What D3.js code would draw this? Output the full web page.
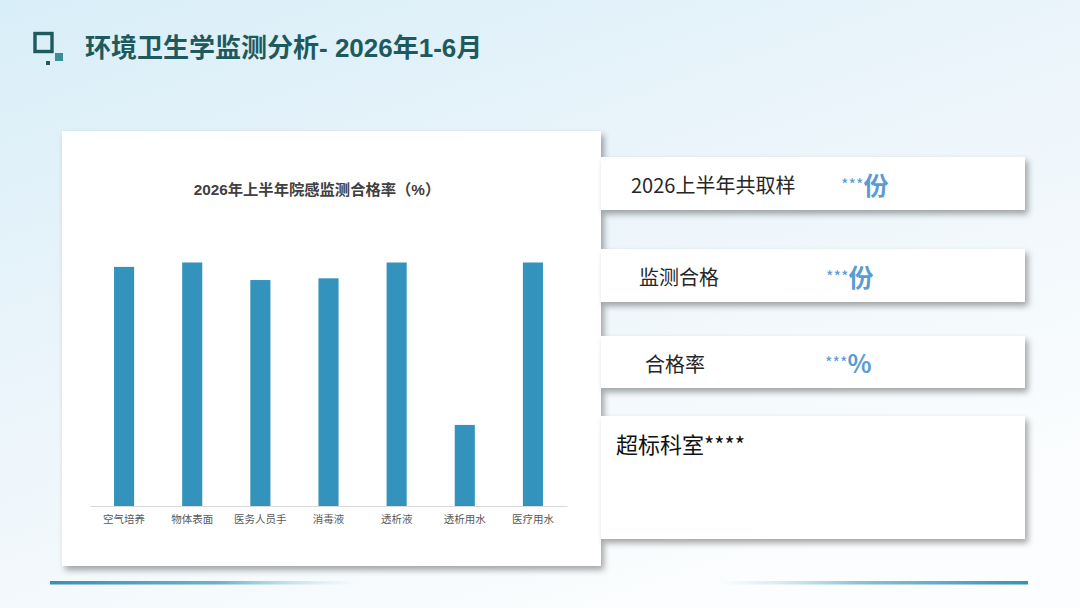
<!DOCTYPE html>
<html>
<head>
<meta charset="utf-8">
<script src="https://cdn.jsdelivr.net/npm/d3@7/dist/d3.min.js"></script>
<style>
  html, body { margin: 0; padding: 0; background: #fff; }
  svg { display: block; }
</style>
</head>
<body>
<div id="chart"></div>
<script>
// Chart data
const categories = ['空气培养', '物体表面', '医务人员手', '消毒液', '透析液', '透析用水', '医疗用水'];
const passRates = [98.2, 100, 92.8, 93.5, 100, 33.3, 100];

// Summary panels
const statLabels = ['2026上半年共取样', '监测合格', '合格率'];
const statValues = ['***', '***', '***'];
const statUnits = ['份', '份', '%'];
const exceedText = '超标科室****';

const pageTitle = '环境卫生学监测分析- 2026年1-6月';
const chartTitle = '2026年上半年院感监测合格率（%）';

const W = 1080, H = 608;
const cjk = '"Noto Sans CJK SC", "Noto Sans", sans-serif';
const latin = '"Liberation Sans", Arial, "Noto Sans CJK SC", sans-serif';

const svg = d3.select('#chart').append('svg')
  .attr('width', W)
  .attr('height', H)
  .attr('viewBox', `0 0 ${W} ${H}`);

const defs = svg.append('defs');

// Background gradient (light blue top-left fading to white)
const bg = defs.append('linearGradient').attr('id', 'bg')
  .attr('x1', 0).attr('y1', 0).attr('x2', 0.6).attr('y2', 1);
bg.append('stop').attr('offset', '0%').attr('stop-color', '#d8eef8');
bg.append('stop').attr('offset', '45%').attr('stop-color', '#eaf4fa');
bg.append('stop').attr('offset', '100%').attr('stop-color', '#fbfdfe');

const shadow = defs.append('filter').attr('id', 'shadow')
  .attr('x', '-5%').attr('y', '-10%').attr('width', '115%').attr('height', '130%');
shadow.append('feDropShadow')
  .attr('dx', 3).attr('dy', 4).attr('stdDeviation', 3)
  .attr('flood-color', '#000').attr('flood-opacity', 0.35);

// Decorative lines at the bottom
const lineL = defs.append('linearGradient').attr('id', 'lineL');
lineL.append('stop').attr('offset', '0%').attr('stop-color', '#3a8fb7');
lineL.append('stop').attr('offset', '55%').attr('stop-color', '#6fb1cc');
lineL.append('stop').attr('offset', '100%').attr('stop-color', '#bfe0ec').attr('stop-opacity', 0);
const lineR = defs.append('linearGradient').attr('id', 'lineR');
lineR.append('stop').attr('offset', '0%').attr('stop-color', '#bfe0ec').attr('stop-opacity', 0);
lineR.append('stop').attr('offset', '45%').attr('stop-color', '#8cc3d8');
lineR.append('stop').attr('offset', '100%').attr('stop-color', '#3a8fb7');

svg.append('rect').attr('width', W).attr('height', H).attr('fill', 'url(#bg)');

// Title icon
const icon = svg.append('g');
icon.append('rect').attr('x', 35).attr('y', 33.5).attr('width', 17).attr('height', 18)
  .attr('fill', 'none').attr('stroke', '#1d5a5e').attr('stroke-width', 3.4);
icon.append('rect').attr('x', 55).attr('y', 53).attr('width', 8).attr('height', 8).attr('fill', '#3a8e95');
icon.append('rect').attr('x', 46).attr('y', 61).attr('width', 4).attr('height', 4).attr('fill', '#27585c');

svg.append('text')
  .attr('x', 85).attr('y', 56.5)
  .style('font-family', latin)
  .style('font-weight', 'bold')
  .style('font-size', '26px')
  .style('fill', '#1e5a5d')
  .text(pageTitle);

// Bottom decorative lines
svg.append('rect').attr('x', 50).attr('y', 581).attr('width', 310).attr('height', 3.5).attr('fill', 'url(#lineL)');
svg.append('rect').attr('x', 718).attr('y', 581).attr('width', 310).attr('height', 3.5).attr('fill', 'url(#lineR)');

// Chart card
svg.append('rect')
  .attr('x', 62).attr('y', 131).attr('width', 539).attr('height', 435)
  .attr('fill', '#fff').attr('filter', 'url(#shadow)');

svg.append('text')
  .attr('x', 317).attr('y', 189)
  .attr('text-anchor', 'middle').attr('dominant-baseline', 'central')
  .style('font-family', latin)
  .style('font-weight', 'bold')
  .style('font-size', '15.3px')
  .style('fill', '#404040')
  .text(chartTitle);

const plot = { left: 90, right: 567, top: 262.5, bottom: 506 };

const x = d3.scaleBand()
  .domain(categories)
  .range([plot.left, plot.right])
  .padding(0);

const y = d3.scaleLinear()
  .domain([0, 100])
  .range([plot.bottom, plot.top]);

const barW = x.bandwidth() * 0.295;

svg.append('g')
  .selectAll('rect')
  .data(categories)
  .join('rect')
  .attr('x', d => x(d) + (x.bandwidth() - barW) / 2)
  .attr('y', (d, i) => y(passRates[i]))
  .attr('width', barW)
  .attr('height', (d, i) => y(0) - y(passRates[i]))
  .attr('fill', '#3493bc');

const xAxis = svg.append('g')
  .attr('transform', `translate(0,${plot.bottom})`)
  .call(d3.axisBottom(x).tickSize(0).tickPadding(9.5));
xAxis.select('.domain').attr('stroke', '#d9d9d9').attr('stroke-width', 1);
xAxis.selectAll('text')
  .style('font-family', cjk)
  .style('font-size', '10.5px')
  .style('fill', '#595959');

// Summary panels
const panels = [
  { y: 157, h: 53, lx: 631, vx: 841 },
  { y: 249, h: 53, lx: 639, vx: 826 },
  { y: 336, h: 52, lx: 645, vx: 825 }
];

panels.forEach((p, i) => {
  const g = svg.append('g');
  g.append('rect')
    .attr('x', 601).attr('y', p.y).attr('width', 424).attr('height', p.h)
    .attr('fill', '#fff').attr('filter', 'url(#shadow)');
  const cy = p.y + p.h / 2;
  g.append('text')
    .attr('x', p.lx).attr('y', cy + 1)
    .attr('dominant-baseline', 'central')
    .style('font-family', cjk)
    .style('font-size', '20px')
    .style('fill', '#262626')
    .text(statLabels[i]);
  const t = g.append('text')
    .attr('x', p.vx).attr('y', cy)
    .attr('dominant-baseline', 'central')
    .style('font-family', cjk)
    .style('fill', '#5b9bd5');
  t.append('tspan').style('font-size', '16px').text(statValues[i]);
  t.append('tspan').style('font-size', '25px').style('font-weight', 'bold').text(statUnits[i]);
});

svg.append('rect')
  .attr('x', 601).attr('y', 416).attr('width', 424).attr('height', 123)
  .attr('fill', '#fff').attr('filter', 'url(#shadow)');
svg.append('text')
  .attr('x', 616).attr('y', 443)
  .attr('dominant-baseline', 'central')
  .style('font-family', cjk)
  .style('font-size', '22px')
  .style('fill', '#111')
  .text(exceedText);
</script>
</body>
</html>
